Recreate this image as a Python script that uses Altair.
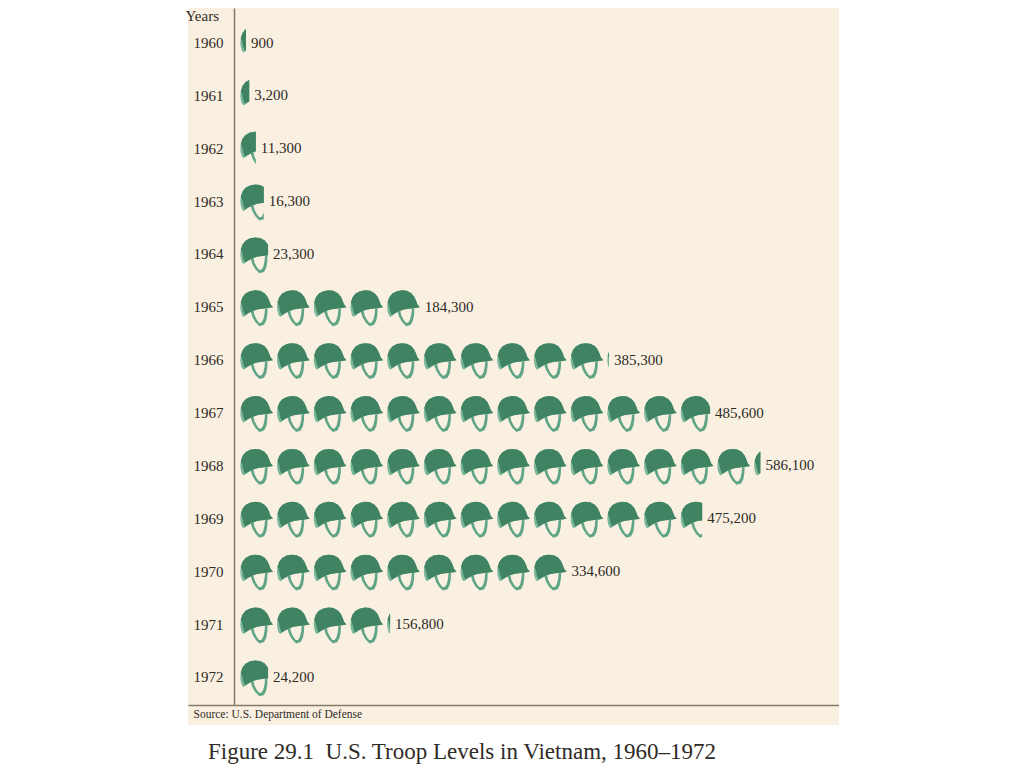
import altair as alt
import pandas as pd

years = [1960, 1961, 1962, 1963, 1964, 1965, 1966, 1967, 1968, 1969, 1970, 1971, 1972]
troops = [900, 3200, 11300, 16300, 23300, 184300, 385300, 485600, 586100, 475200, 334600, 156800, 24200]
whole = [0, 0, 0, 0, 0, 5, 10, 12, 14, 12, 9, 4, 0]
partial = [0.18, 0.28, 0.48, 0.72, 0.85, 0, 0.06, 0.9, 0.2, 0.66, 0, 0.1, 0.85]

# helmet outline, in a 33 x 36 box
BODY = [(0.3,17),(0.8,12),(2.5,7),(5.5,3.2),(10,0.8),(15,0),(20,0.5),(24.5,2.8),(27.5,6.5),(29.5,11),(30.5,14),(33,17),
        (27,18),(22,18.5),(17,19.2),(12,21),(8,23.5),(3.6,26.5),(2,25),(0.8,21)]
SHELL = [(0.8,12),(2.5,7),(5.5,3.2),(10,0.8),(15,0),(20,0.5),(24.5,2.8),(27.5,6.5),(29.5,11),(30.5,14),(33,17),
         (27,18),(22,18.5),(17,19.2),(12,21),(8,23),(5,24.8),(3.4,21),(2.4,16)]
STRAP = [(10.5,21),(12.5,27),(15.5,32),(19.5,35.8),(24,34.5),(26.3,30),(27.3,24),(27.5,18),(25,18.5),(24.5,24),(23.2,29.5),
         (21.3,32.3),(19,32.3),(16.5,29),(14.5,25),(13.5,20.5)]


def clip(poly, limit):
    out = []
    for k, (x1, y1) in enumerate(poly):
        x0, y0 = poly[k - 1]
        if (x0 <= limit) != (x1 <= limit):
            t = (limit - x0) / (x1 - x0)
            out.append((limit, y0 + t * (y1 - y0)))
        if x1 <= limit:
            out.append((x1, y1))
    return out


def to_path(poly, frac):
    pts = clip(poly, frac * 33)
    if len(pts) < 3:
        return "M0,0Z"
    return "M" + "L".join(f"{(x - 16.5) / 18:.4f},{(y - 16.5) / 18:.4f}" for x, y in pts) + "Z"


rows, labels = [], []
for y, t, w, p in zip(years, troops, whole, partial):
    pieces = [(i, 1.0) for i in range(w)] + ([(w, p)] if p else [])
    for i, f in pieces:
        rows.append(dict(year=y, pos=i, body=to_path(BODY, f), shell=to_path(SHELL, f), strap=to_path(STRAP, f)))
    end = (w + p * 0.9 - 0.45) if p else (w - 1 + 0.45)
    labels.append(dict(year=y, end=end, label=f"{t:,}"))
helmets = pd.DataFrame(rows)
label_df = pd.DataFrame(labels)

FONT = "Liberation Serif"
INK = "#2f2b26"
LINE = "#857a68"

x_scale = alt.Scale(domain=[-1.8665, 15.872])
y_scale = alt.Scale(domain=[1959.3475, 1972.5296], range=[0, 697])

x_axis = alt.Axis(domain=True, domainColor=LINE, domainWidth=1.5, ticks=False, labels=False, grid=False,
                  offset=-20, title="Source: U.S. Department of Defense", titleFont=FONT, titleFontSize=11.5,
                  titleFontWeight="normal", titleColor=INK, titleX=5, titleY=9, titleAlign="left",
                  titleBaseline="middle")
y_axis = alt.Axis(values=years, format="d", domain=True, domainColor=LINE, domainWidth=1.5, ticks=False,
                  grid=False, labelFont=FONT, labelFontSize=15, labelColor=INK, labelAlign="left",
                  labelPadding=41, offset=-46, title="Years", titleFont=FONT, titleFontSize=15,
                  titleFontWeight="normal", titleColor=INK, titleAngle=0, titleX=-49, titleY=7,
                  titleAlign="left", titleBaseline="middle")


def helmet_layer(field, colour):
    return alt.Chart(helmets).mark_point(filled=True, opacity=1, color=colour, strokeWidth=0, size=1296).encode(
        x=alt.X("pos:Q", scale=x_scale, axis=x_axis),
        y=alt.Y("year:Q", scale=y_scale, axis=y_axis),
        shape=alt.Shape(f"{field}:N", scale=None),
    )


text = alt.Chart(label_df).mark_text(align="left", baseline="middle", dx=5, font=FONT, fontSize=15,
                                     color=INK).encode(
    x=alt.X("end:Q", scale=x_scale, axis=x_axis),
    y=alt.Y("year:Q", scale=y_scale, axis=y_axis),
    text="label:N",
)

chart = alt.layer(
    helmet_layer("strap", "#5fa585"),
    helmet_layer("body", "#79b69a"),
    helmet_layer("shell", "#3f8362"),
    text,
).properties(
    width=651,
    height=717,
    padding={"left": 180, "top": 0, "right": 0, "bottom": 42},
    autosize=alt.AutoSizeParams(type="none"),
    background="white",
    title=alt.TitleParams("Figure 29.1\u00a0\u00a0U.S. Troop Levels in Vietnam, 1960\u20131972", orient="bottom",
                          anchor="start", frame="group", font=FONT, fontSize=23, fontWeight="normal", color=INK,
                          dx=20, offset=16),
).configure_view(fill="#faf0e2", stroke=None)

chart.save("out.html", embed_options={"renderer": "svg", "actions": False})
